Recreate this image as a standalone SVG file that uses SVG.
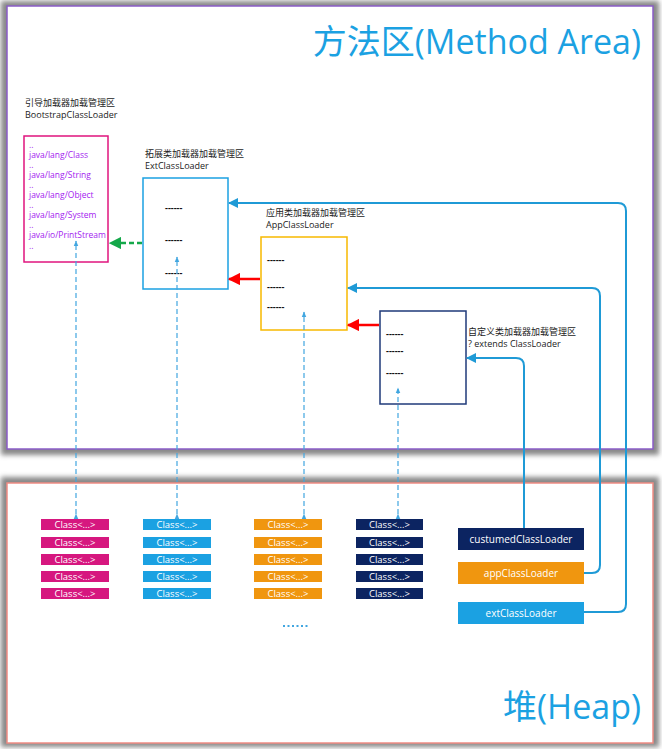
<svg xmlns="http://www.w3.org/2000/svg" width="662" height="749" viewBox="0 0 662 749">
<style>
text{font-family:"Segoe UI","Open Sans","Noto Sans","Noto Sans CJK SC",sans-serif}
.lbl{font-size:9px;fill:#222}
.big{font-size:34px;fill:#1ba1e2}
.pur{font-size:8.5px;fill:#a41cf0}
.dash{font-size:9px;fill:#111;font-weight:bold}
.cls{font-size:9.5px;fill:#fff;text-anchor:middle}
.ld{font-size:10px;fill:#fff;text-anchor:middle}
.vd{stroke:#41a6e0;stroke-width:1.2;stroke-dasharray:5,3;fill:none}
.bl{stroke:#1f9ad6;stroke-width:2;fill:none}
</style>
<defs>
<filter id="sh" x="-5%" y="-5%" width="110%" height="110%"><feGaussianBlur stdDeviation="2.5"/></filter>
<marker id="ab" viewBox="0 0 10 10" refX="9" refY="5" markerWidth="5" markerHeight="5" orient="auto"><path d="M0,0L10,5L0,10z" fill="#1f9ad6"/></marker>
<marker id="ar" viewBox="0 0 10 10" refX="9" refY="5" markerWidth="5" markerHeight="5" orient="auto"><path d="M0,0L10,5L0,10z" fill="#ff0000"/></marker>
<marker id="ag" viewBox="0 0 10 10" refX="9" refY="5" markerWidth="5" markerHeight="5" orient="auto"><path d="M0,0L10,5L0,10z" fill="#14a84a"/></marker>
<marker id="as" viewBox="0 0 10 10" refX="9" refY="5" markerWidth="5" markerHeight="5" orient="auto"><path d="M0,1L10,5L0,9z" fill="#41a6e0"/></marker>
</defs>
<rect width="662" height="749" fill="#fff"/>
<g id="frames">
<rect x="1" y="1" width="658" height="454" fill="#888" filter="url(#sh)"/>
<rect x="7" y="6" width="646" height="443" fill="#fff" stroke="#8a5cc8" stroke-width="1.5"/>
<rect x="1" y="477" width="658" height="270" fill="#888" filter="url(#sh)"/>
<rect x="7" y="483" width="646" height="260" fill="#fff" stroke="#f08c84" stroke-width="1.5"/>
<text class="big" x="641" y="54" text-anchor="end">方法区(Method Area)</text>
<text class="big" x="641" y="719" text-anchor="end">堆(Heap)</text>
</g>
<g id="bootstrap">
<text class="lbl" x="25" y="106">引导加载器加载管理区</text>
<text class="lbl" x="25" y="118">BootstrapClassLoader</text>
<rect x="24" y="136" width="84" height="126" fill="#fff" stroke="#e0157e" stroke-width="1.5"/>
<text class="pur" x="29" y="148">..</text>
<text class="pur" x="29" y="158">java/lang/Class</text>
<text class="pur" x="29" y="168">..</text>
<text class="pur" x="29" y="178">java/lang/String</text>
<text class="pur" x="29" y="188">..</text>
<text class="pur" x="29" y="198">java/lang/Object</text>
<text class="pur" x="29" y="208">..</text>
<text class="pur" x="29" y="218">java/lang/System</text>
<text class="pur" x="29" y="228">..</text>
<text class="pur" x="29" y="238">java/io/PrintStream</text>
<text class="pur" x="29" y="249">..</text>
</g>
<g id="ext">
<text class="lbl" x="145" y="157">拓展类加载器加载管理区</text>
<text class="lbl" x="145" y="169">ExtClassLoader</text>
<rect x="143" y="178" width="85" height="111" fill="#fff" stroke="#1ba1e2" stroke-width="1.5"/>
<text class="dash" x="165" y="211">------</text>
<text class="dash" x="165" y="243">------</text>
<text class="dash" x="165" y="276">------</text>
</g>
<g id="app">
<text class="lbl" x="266" y="216">应用类加载器加载管理区</text>
<text class="lbl" x="266" y="228">AppClassLoader</text>
<rect x="261" y="237" width="86" height="93" fill="#fff" stroke="#f7b900" stroke-width="1.5"/>
<text class="dash" x="267" y="263">------</text>
<text class="dash" x="267" y="290">------</text>
<text class="dash" x="267" y="310">------</text>
</g>
<g id="custom">
<rect x="380" y="311" width="86" height="93" fill="#fff" stroke="#1f3a7a" stroke-width="1.5"/>
<text class="dash" x="386" y="337">------</text>
<text class="dash" x="386" y="354">------</text>
<text class="dash" x="386" y="376">------</text>
<text class="lbl" x="468" y="335">自定义类加载器加载管理区</text>
<text class="lbl" x="468" y="347">? extends ClassLoader</text>
</g>
<g id="heap-classes">
<g fill="#d6177f">
<rect x="41" y="519" width="68" height="11"/><rect x="41" y="537" width="68" height="11"/><rect x="41" y="554" width="68" height="11"/><rect x="41" y="571" width="68" height="11"/><rect x="41" y="588" width="68" height="11"/>
</g>
<g fill="#1ba1e2">
<rect x="143" y="519" width="68" height="11"/><rect x="143" y="537" width="68" height="11"/><rect x="143" y="554" width="68" height="11"/><rect x="143" y="571" width="68" height="11"/><rect x="143" y="588" width="68" height="11"/>
</g>
<g fill="#f0960f">
<rect x="254" y="519" width="68" height="11"/><rect x="254" y="537" width="68" height="11"/><rect x="254" y="554" width="68" height="11"/><rect x="254" y="571" width="68" height="11"/><rect x="254" y="588" width="68" height="11"/>
</g>
<g fill="#0c2461">
<rect x="356" y="519" width="67" height="11"/><rect x="356" y="537" width="67" height="11"/><rect x="356" y="554" width="67" height="11"/><rect x="356" y="571" width="67" height="11"/><rect x="356" y="588" width="67" height="11"/>
</g>
<g>
<text class="cls" x="75" y="528">Class&lt;...&gt;</text><text class="cls" x="75" y="546">Class&lt;...&gt;</text><text class="cls" x="75" y="563">Class&lt;...&gt;</text><text class="cls" x="75" y="580">Class&lt;...&gt;</text><text class="cls" x="75" y="597">Class&lt;...&gt;</text>
<text class="cls" x="177" y="528">Class&lt;...&gt;</text><text class="cls" x="177" y="546">Class&lt;...&gt;</text><text class="cls" x="177" y="563">Class&lt;...&gt;</text><text class="cls" x="177" y="580">Class&lt;...&gt;</text><text class="cls" x="177" y="597">Class&lt;...&gt;</text>
<text class="cls" x="288" y="528">Class&lt;...&gt;</text><text class="cls" x="288" y="546">Class&lt;...&gt;</text><text class="cls" x="288" y="563">Class&lt;...&gt;</text><text class="cls" x="288" y="580">Class&lt;...&gt;</text><text class="cls" x="288" y="597">Class&lt;...&gt;</text>
<text class="cls" x="389.5" y="528">Class&lt;...&gt;</text><text class="cls" x="389.5" y="546">Class&lt;...&gt;</text><text class="cls" x="389.5" y="563">Class&lt;...&gt;</text><text class="cls" x="389.5" y="580">Class&lt;...&gt;</text><text class="cls" x="389.5" y="597">Class&lt;...&gt;</text>
</g>
<line x1="283" y1="626" x2="310" y2="626" stroke="#41a6e0" stroke-width="2" stroke-dasharray="2,2.5"/>
</g>
<g id="custumedClassLoader">
<rect x="458" y="528" width="126" height="22" fill="#0c2461"/>
<text class="ld" x="521" y="542.5">custumedClassLoader</text>
</g>
<g id="appClassLoader">
<rect x="458" y="562" width="126" height="22" fill="#f0960f"/>
<text class="ld" x="521" y="576.5">appClassLoader</text>
</g>
<g id="extClassLoader">
<rect x="458" y="602" width="126" height="22" fill="#1ba1e2"/>
<text class="ld" x="521" y="616.5">extClassLoader</text>
</g>
<g id="connectors">
<line x1="142" y1="243" x2="110" y2="243" stroke="#14a84a" stroke-width="2.5" stroke-dasharray="5,3" marker-end="url(#ag)"/>
<line x1="260" y1="279" x2="229" y2="279" stroke="#ff0000" stroke-width="2.5" marker-end="url(#ar)"/>
<line x1="379" y1="325" x2="348" y2="325" stroke="#ff0000" stroke-width="2.5" marker-end="url(#ar)"/>
<path class="bl" d="M584,612H618Q626,612 626,604V211Q626,203 618,203H229" marker-end="url(#ab)"/>
<path class="bl" d="M584,573H592Q600,573 600,565V296Q600,288 592,288H348" marker-end="url(#ab)"/>
<path class="bl" d="M524,528V366Q524,358 516,358H467" marker-end="url(#ab)"/>
<path class="vd" d="M76,514V241" marker-start="url(#as)" marker-end="url(#as)"/>
<path class="vd" d="M177,514V257" marker-start="url(#as)" marker-end="url(#as)"/>
<path class="vd" d="M304,514V312" marker-start="url(#as)" marker-end="url(#as)"/>
<path class="vd" d="M398,514V388" marker-start="url(#as)" marker-end="url(#as)"/>
</g>
</svg>
